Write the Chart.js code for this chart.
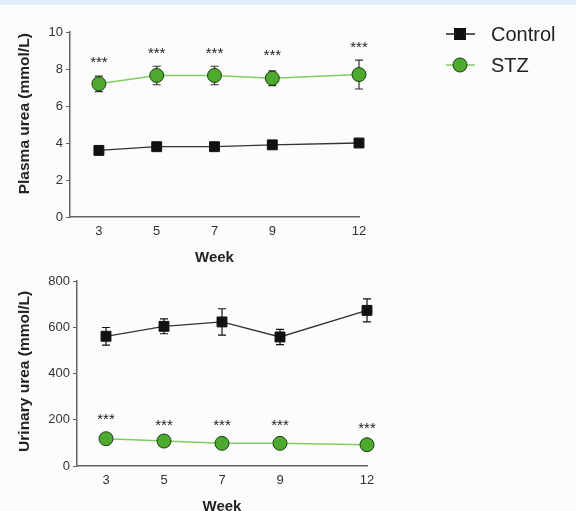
<!DOCTYPE html>
<html lang="en">
<head>
    <meta charset="UTF-8">
    <title>Plasma and urinary urea</title>
    <script src="https://cdn.jsdelivr.net/npm/chart.js"></script>
    <style>
        body {
            margin: 0;
            width: 576px;
            height: 511px;
            overflow: hidden;
            background: #fcfcfc;
            position: relative;
            font-family: "Liberation Sans", Arial, sans-serif;
        }
        .band {
            position: absolute;
            left: 0; top: 0;
            width: 576px; height: 5px;
            background: #e0eef6;
        }
        #plasmaChart { position: absolute; left: 0; top: 0; }
        #urineChart { position: absolute; left: 0; top: 265px; }
    </style>
</head>
<body>
    <div class="band"></div>
    <canvas id="plasmaChart" width="576" height="270"></canvas>
    <canvas id="urineChart" width="400" height="252"></canvas>

    <script>
        const weeks = [3, 5, 7, 9, 12];

        const plasmaControl = [3.6, 3.8, 3.8, 3.9, 4.0];
        const plasmaControlErr = [0.12, 0.12, 0.12, 0.12, 0.12];
        const plasmaStz = [7.2, 7.65, 7.65, 7.5, 7.7];
        const plasmaStzErr = [0.42, 0.5, 0.5, 0.4, 0.78];
        const plasmaStars = [8.5, 9.0, 9.0, 8.85, 9.3];

        const urineControl = [561, 604, 623, 558, 673];
        const urineControlErr = [38, 32, 57, 33, 50];
        const urineStz = [118, 108, 98, 98, 92];
        const urineStzErr = [6, 6, 6, 6, 6];
        const urineStars = [212, 186, 186, 186, 173];

        const green = "#4daa2e";
        const greenLine = "#7fcf60";
        const dark = "#111111";

        function pts(values) {
            return weeks.map((w, i) => ({ x: w, y: values[i] }));
        }

        // error bars drawn under the markers, stars on top
        const errorBars = {
            id: "errorBars",
            beforeDatasetsDraw(chart) {
                const ctx = chart.ctx;
                const xs = chart.scales.x, ys = chart.scales.y;
                chart.data.datasets.forEach((ds) => {
                    if (!ds.err) return;
                    ctx.save();
                    ctx.strokeStyle = ds.errColor;
                    ctx.lineWidth = 1.2;
                    ds.data.forEach((p, i) => {
                        const x = xs.getPixelForValue(p.x);
                        const y1 = ys.getPixelForValue(p.y + ds.err[i]);
                        const y2 = ys.getPixelForValue(p.y - ds.err[i]);
                        ctx.beginPath();
                        ctx.moveTo(x, y1); ctx.lineTo(x, y2);
                        ctx.moveTo(x - 4, y1); ctx.lineTo(x + 4, y1);
                        ctx.moveTo(x - 4, y2); ctx.lineTo(x + 4, y2);
                        ctx.stroke();
                    });
                    ctx.restore();
                });
            },
            afterDatasetsDraw(chart, args, opts) {
                const ctx = chart.ctx;
                const xs = chart.scales.x, ys = chart.scales.y;
                ctx.save();
                ctx.fillStyle = "#222";
                ctx.font = "15px 'Liberation Sans', Arial";
                ctx.textAlign = "center";
                ctx.textBaseline = "middle";
                opts.stars.forEach((v, i) => {
                    ctx.fillText("***", xs.getPixelForValue(weeks[i]), ys.getPixelForValue(v) + 3);
                });
                ctx.restore();
            }
        };

        const sideLegend = {
            id: "sideLegend",
            afterDraw(chart, args, opts) {
                if (!opts.show) return;
                const ctx = chart.ctx;
                ctx.save();
                const rows = [
                    { label: "Control", y: 34, line: "#222", fill: dark, square: true },
                    { label: "STZ", y: 65, line: greenLine, fill: green, square: false }
                ];
                rows.forEach((r) => {
                    ctx.strokeStyle = r.line;
                    ctx.lineWidth = 1.5;
                    ctx.beginPath();
                    ctx.moveTo(446, r.y); ctx.lineTo(475, r.y);
                    ctx.stroke();
                    ctx.fillStyle = r.fill;
                    if (r.square) {
                        ctx.fillRect(454, r.y - 6, 12, 12);
                    } else {
                        ctx.beginPath();
                        ctx.arc(460, r.y, 7, 0, Math.PI * 2);
                        ctx.fill();
                        ctx.strokeStyle = "#1d3d10";
                        ctx.lineWidth = 1;
                        ctx.stroke();
                    }
                    ctx.fillStyle = "#222";
                    ctx.font = "20px 'Liberation Sans', Arial";
                    ctx.textBaseline = "middle";
                    ctx.fillText(r.label, 491, r.y + 1);
                });
                ctx.restore();
            }
        };

        function makeChart(id, cfg) {
            return new Chart(document.getElementById(id), {
                type: "line",
                data: {
                    datasets: [
                        {
                            label: "Control",
                            data: pts(cfg.control),
                            err: cfg.controlErr,
                            errColor: "#111",
                            borderColor: "#333",
                            borderWidth: 1.3,
                            clip: false,
                            pointStyle: "rect",
                            pointRadius: 7,
                            pointBackgroundColor: dark,
                            pointBorderColor: dark,
                            pointBorderWidth: 1
                        },
                        {
                            label: "STZ",
                            data: pts(cfg.stz),
                            err: cfg.stzErr,
                            errColor: "#333",
                            borderColor: greenLine,
                            borderWidth: 1.5,
                            clip: false,
                            pointStyle: "circle",
                            pointRadius: 7,
                            pointBackgroundColor: green,
                            pointBorderColor: "#1d3d10",
                            pointBorderWidth: 1
                        }
                    ]
                },
                options: {
                    responsive: false,
                    animation: false,
                    layout: { padding: cfg.padding },
                    plugins: {
                        legend: { display: false },
                        tooltip: { enabled: false },
                        errorBars: { stars: cfg.stars },
                        sideLegend: { show: cfg.legend }
                    },
                    scales: {
                        x: {
                            type: "linear",
                            min: 2,
                            max: 12,
                            afterBuildTicks: (s) => { s.ticks = weeks.map((w) => ({ value: w })); },
                            afterFit: (s) => { s.height = cfg.xHeight; },
                            grid: { display: false, drawTicks: false },
                            border: { display: true, color: "#666", width: 1.5 },
                            ticks: { color: "#333", font: { size: 13, family: "'Liberation Sans', Arial" }, padding: 7, maxRotation: 0 },
                            title: {
                                display: true,
                                text: "Week",
                                color: "#222",
                                font: { size: 15, weight: "bold", family: "'Liberation Sans', Arial" },
                                padding: { top: 0, bottom: cfg.weekPad }
                            }
                        },
                        y: {
                            min: 0,
                            max: cfg.yMax,
                            afterFit: (s) => { s.width = cfg.yWidth; },
                            ticks: { stepSize: cfg.yStep, color: "#333", font: { size: 13, family: "'Liberation Sans', Arial" }, padding: 3 },
                            grid: { drawOnChartArea: false, drawTicks: true, tickLength: 4, color: "#666" },
                            border: { display: true, color: "#666", width: 1.5 },
                            title: {
                                display: true,
                                text: cfg.yTitle,
                                color: "#222",
                                font: { size: 15.5, weight: "bold", family: "'Liberation Sans', Arial" },
                                padding: { top: 15, bottom: 0 }
                            }
                        }
                    }
                },
                plugins: [errorBars, sideLegend]
            });
        }

        makeChart("plasmaChart", {
            control: plasmaControl, controlErr: plasmaControlErr,
            stz: plasmaStz, stzErr: plasmaStzErr, stars: plasmaStars,
            yMax: 10, yStep: 2, yTitle: "     Plasma urea (mmol/L)",
            padding: { left: 0, top: 32, right: 217, bottom: 0 },
            xHeight: 53, yWidth: 70, weekPad: 3, legend: true
        });

        makeChart("urineChart", {
            control: urineControl, controlErr: urineControlErr,
            stz: urineStz, stzErr: urineStzErr, stars: urineStars,
            yMax: 800, yStep: 200, yTitle: " Urinary urea (mmol/L)",
            padding: { left: 0, top: 16, right: 33, bottom: 0 },
            xHeight: 51, yWidth: 77, weekPad: 1, legend: false
        });
    </script>
</body>
</html>
